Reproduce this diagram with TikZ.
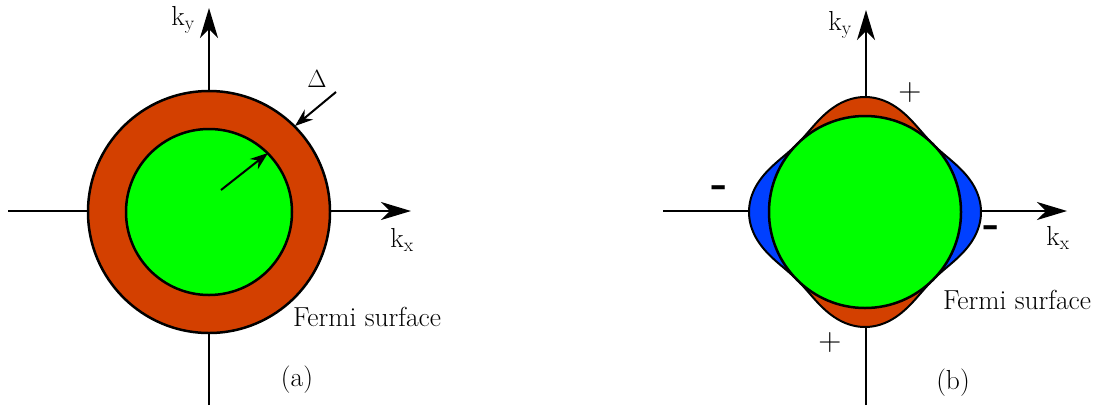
\documentclass[tikz,border=0pt]{standalone}
\usetikzlibrary{arrows.meta}
\definecolor{gapred}{RGB}{211,64,0}
\definecolor{fsgreen}{RGB}{0,255,0}
\definecolor{gapblue}{RGB}{0,64,255}
\begin{document}
\begin{tikzpicture}[x=1pt,y=-1pt,
  every node/.style={font=\rmfamily\fontsize{27.5}{32}\selectfont, inner sep=0pt},
  axis/.style={line width=2pt,-{Stealth[length=30pt,width=18pt,inset=9pt]}},
  small/.style={line width=2pt,-{Stealth[length=18pt,width=13pt,inset=6pt]}},
  outline/.style={draw=black,line width=2.5pt},
  lobe/.style={draw=black,line width=2pt,line join=round},
  sign/.style={font=\rmfamily\fontsize{32}{36}\selectfont},
  msign/.style={font=\rmfamily\bfseries\fontsize{44}{48}\selectfont}]
\useasboundingbox (0,0) rectangle (1102,405);
% ---------- (a) ----------
\coordinate (c1) at (209,212);
\coordinate (axl) at (8,211);
\coordinate (axr) at (411,211);
\coordinate (ayb) at (209,405);
\coordinate (ayt) at (209,8);
\draw[axis] (axl) -- (axr);
\draw[axis] (ayb) -- (ayt);
\fill[gapred,outline] (c1) circle (121);
\fill[fsgreen,outline] (c1) circle (83);
\coordinate (ia) at (221,190);
\coordinate (ib) at (268,153);
\draw[small] (ia) -- (ib);
\coordinate (da) at (336,92);
\coordinate (db) at (295,126);
\draw[small] (da) -- (db);
\node[font=\rmfamily\fontsize{32}{36}\selectfont] (dl) at (317,79) {$\Delta$};
\node (kya) at (183,20) {k\textsubscript{y}};
\node (kxa) at (402,240) {k\textsubscript{x}};
\node (fsa) at (367,317) {Fermi surface};
\node (la) at (297,380) {(a)};
% ---------- (b) ----------
\coordinate (c2) at (865,212);
\coordinate (bxl) at (663,211);
\coordinate (bxr) at (1067,211);
\coordinate (byb) at (866,405);
\coordinate (byt) at (866,10);
\draw[axis] (bxl) -- (bxr);
\draw[axis] (byb) -- (byt);
\begin{scope}[shift={(c2)}]
  \filldraw[fill=gapred,lobe] plot[domain=45:135,samples=80] (\x:{96+19*cos(2*\x)^2}) -- (0,0) -- cycle;
  \filldraw[fill=gapred,lobe] plot[domain=225:315,samples=80] (\x:{96+19*cos(2*\x)^2}) -- (0,0) -- cycle;
  \filldraw[fill=gapblue,lobe] plot[domain=-45:45,samples=80] (\x:{96+20*cos(2*\x)^2}) -- (0,0) -- cycle;
  \filldraw[fill=gapblue,lobe] plot[domain=135:225,samples=80] (\x:{96+20*cos(2*\x)^2}) -- (0,0) -- cycle;
\end{scope}
\fill[fsgreen,outline] (c2) circle (96);
\node (kyb) at (840,25) {k\textsubscript{y}};
\node (kxb) at (1058,238) {k\textsubscript{x}};
\node[sign] (p1) at (910,93) {+};
\node[sign] (p2) at (830,343) {+};
\node[msign] (m1) at (720,192) {-};
\node[msign] (m2) at (992,232) {-};
\node (fsb) at (1017,300) {Fermi surface};
\node (lb) at (953,383) {(b)};
\end{tikzpicture}
\end{document}
